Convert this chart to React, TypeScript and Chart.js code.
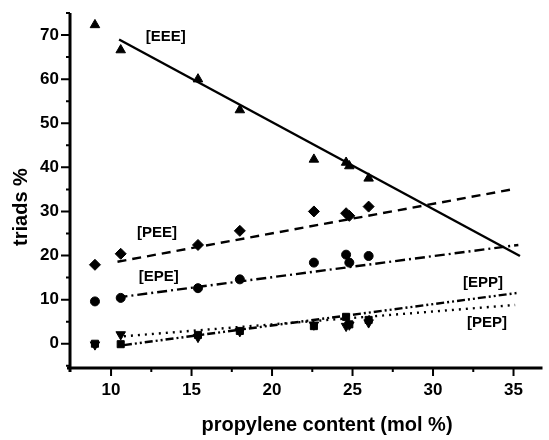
import React, { useEffect, useRef } from "react";
import { Chart, registerables } from "chart.js";
Chart.register(...registerables);

// propylene content (mol %) of the samples
const propylene = [9.0, 10.6, 15.4, 18.0, 22.6, 24.6, 24.8, 26.0];
// triad fractions (%)
const eee = [72.3, 66.6, 60.0, 53.0, 41.8, 41.1, 40.3, 37.5];
const pee = [17.9, 20.4, 22.4, 25.6, 30.0, 29.6, 29.0, 31.1];
const epe = [9.6, 10.4, 12.6, 14.6, 18.4, 20.2, 18.4, 19.9];
const epp = [0.0, -0.1, 2.0, 2.9, 4.0, 6.1, 4.4, 5.4];
const pep = [-0.2, 2.1, 1.5, 2.8, 4.3, 4.0, 4.3, 4.8];

// fitted lines (end points)
const eeeFitX = [10.5, 35.4];
const eeeFitY = [69.0, 19.9];
const peeFitX = [10.4, 34.9];
const peeFitY = [18.6, 35.0];
const epeFitX = [10.4, 35.3];
const epeFitY = [10.5, 22.4];
const eppFitX = [10.8, 35.2];
const eppFitY = [-0.3, 11.5];
const pepFitX = [10.8, 35.1];
const pepFitY = [1.7, 8.8];

// curve labels
const labelTexts = ["[EEE]", "[PEE]", "[EPE]", "[EPP]", "[PEP]"];
const labelX = [13.4, 12.85, 12.97, 33.1, 33.35];
const labelY = [69.6, 25.1, 15.1, 13.8, 4.7];

// axes
const xMajorTicks = [10, 15, 20, 25, 30, 35];
const xMinorTicks = [12.5, 17.5, 22.5, 27.5, 32.5];
const yMajorTicks = [0, 10, 20, 30, 40, 50, 60, 70];
const yMinorTicks = [-5, 5, 15, 25, 35, 45, 55, 65, 75];
const xRange = [7.45, 36.8];
const yRange = [-5.5, 75];
const xTitle = "propylene content (mol %)";
const yTitle = "triads %";

const FONT = "'Liberation Sans', Arial, Helvetica, sans-serif";

const pts = (xs: number[], ys: number[]) => xs.map((x, i) => ({ x, y: ys[i] }));

const decorPlugin = {
  id: "decor",
  afterDraw(chart: any) {
    const ctx = chart.ctx;
    const xs = chart.scales.x;
    const ys = chart.scales.y;
    const { left, right, top, bottom } = chart.chartArea;
    ctx.save();
    ctx.strokeStyle = "#000";
    ctx.fillStyle = "#000";
    // axis lines
    ctx.lineWidth = 3;
    ctx.beginPath();
    ctx.moveTo(left, top);
    ctx.lineTo(left, bottom + 4);
    ctx.moveTo(left - 3, bottom);
    ctx.lineTo(right, bottom);
    ctx.stroke();
    // ticks
    ctx.lineWidth = 2;
    ctx.beginPath();
    yMajorTicks.forEach((v) => {
      const p = ys.getPixelForValue(v);
      ctx.moveTo(left - 9, p);
      ctx.lineTo(left, p);
    });
    yMinorTicks.forEach((v) => {
      const p = ys.getPixelForValue(v);
      ctx.moveTo(left - 4, p);
      ctx.lineTo(left, p);
    });
    xMajorTicks.forEach((v) => {
      const p = xs.getPixelForValue(v);
      ctx.moveTo(p, bottom);
      ctx.lineTo(p, bottom + 8);
    });
    xMinorTicks.forEach((v) => {
      const p = xs.getPixelForValue(v);
      ctx.moveTo(p, bottom);
      ctx.lineTo(p, bottom + 4);
    });
    ctx.stroke();
    // curve labels
    ctx.font = `bold 15px ${FONT}`;
    ctx.textAlign = "center";
    ctx.textBaseline = "middle";
    labelTexts.forEach((t, i) => {
      ctx.fillText(t, xs.getPixelForValue(labelX[i]), ys.getPixelForValue(labelY[i]));
    });
    // axis titles
    ctx.font = `bold 20px ${FONT}`;
    ctx.textBaseline = "alphabetic";
    ctx.fillText(xTitle, 327, 431);
    ctx.translate(27, 207);
    ctx.rotate(-Math.PI / 2);
    ctx.fillText(yTitle, 0, 0);
    ctx.restore();
  },
};

export default function App() {
  const ref = useRef<HTMLCanvasElement | null>(null);
  useEffect(() => {
    document.body.style.margin = "0";
    if (!ref.current) return;
    const lineDs = (label: string, xs: number[], ys: number[], dash: number[]) => ({
      label,
      data: pts(xs, ys),
      showLine: true,
      borderColor: "#000",
      borderWidth: 2.4,
      borderDash: dash,
      pointRadius: 0,
      fill: false,
    });
    const markDs = (label: string, ys: number[], style: string, radius: number, rotation = 0) => ({
      label,
      data: pts(propylene, ys),
      showLine: false,
      pointStyle: style,
      pointRadius: radius,
      pointRotation: rotation,
      backgroundColor: "#000",
      borderColor: "#000",
      borderWidth: 1,
    });
    const chart = new Chart(ref.current, {
      type: "scatter",
      data: {
        datasets: [
          lineDs("EEE fit", eeeFitX, eeeFitY, []),
          lineDs("PEE fit", peeFitX, peeFitY, [9, 6]),
          lineDs("EPE fit", epeFitX, epeFitY, [10, 4, 2, 4]),
          lineDs("EPP fit", eppFitX, eppFitY, [8, 3, 2, 3, 2, 3]),
          lineDs("PEP fit", pepFitX, pepFitY, [2, 5]),
          markDs("[EEE]", eee, "triangle", 5.5),
          markDs("[PEE]", pee, "rectRot", 5.5),
          markDs("[EPE]", epe, "circle", 4.5),
          markDs("[EPP]", epp, "rect", 5),
          markDs("[PEP]", pep, "triangle", 5.5, 180),
        ] as any,
      },
      options: {
        animation: false,
        responsive: false,
        layout: { padding: { left: 0, top: 13, right: 1, bottom: 0 } },
        plugins: { legend: { display: false }, tooltip: { enabled: false } },
        scales: {
          x: {
            type: "linear",
            min: xRange[0],
            max: xRange[1],
            afterBuildTicks: (s: any) => {
              s.ticks = xMajorTicks.map((v) => ({ value: v }));
            },
            afterFit: (s: any) => {
              s.height = 72;
              s.paddingLeft = 0;
              s.paddingRight = 0;
            },
            grid: { display: true, drawOnChartArea: false, drawTicks: false },
            border: { display: false },
            ticks: {
              color: "#000",
              padding: 12,
              font: { family: FONT, size: 17, weight: "bold" },
              maxRotation: 0,
              callback: (v: any) => String(v),
            },
          },
          y: {
            type: "linear",
            min: yRange[0],
            max: yRange[1],
            afterBuildTicks: (s: any) => {
              s.ticks = yMajorTicks.map((v) => ({ value: v }));
            },
            afterFit: (s: any) => {
              s.width = 70;
              s.paddingTop = 0;
              s.paddingBottom = 0;
            },
            grid: { display: true, drawOnChartArea: false, drawTicks: false },
            border: { display: false },
            ticks: {
              color: "#000",
              padding: 11,
              font: { family: FONT, size: 17, weight: "bold" },
              callback: (v: any) => String(v),
            },
          },
        },
      } as any,
      plugins: [decorPlugin],
    });
    return () => chart.destroy();
  }, []);
  return (
    <div style={{ width: 549, height: 440, background: "#fff" }}>
      <canvas ref={ref} width={549} height={440} />
    </div>
  );
}
